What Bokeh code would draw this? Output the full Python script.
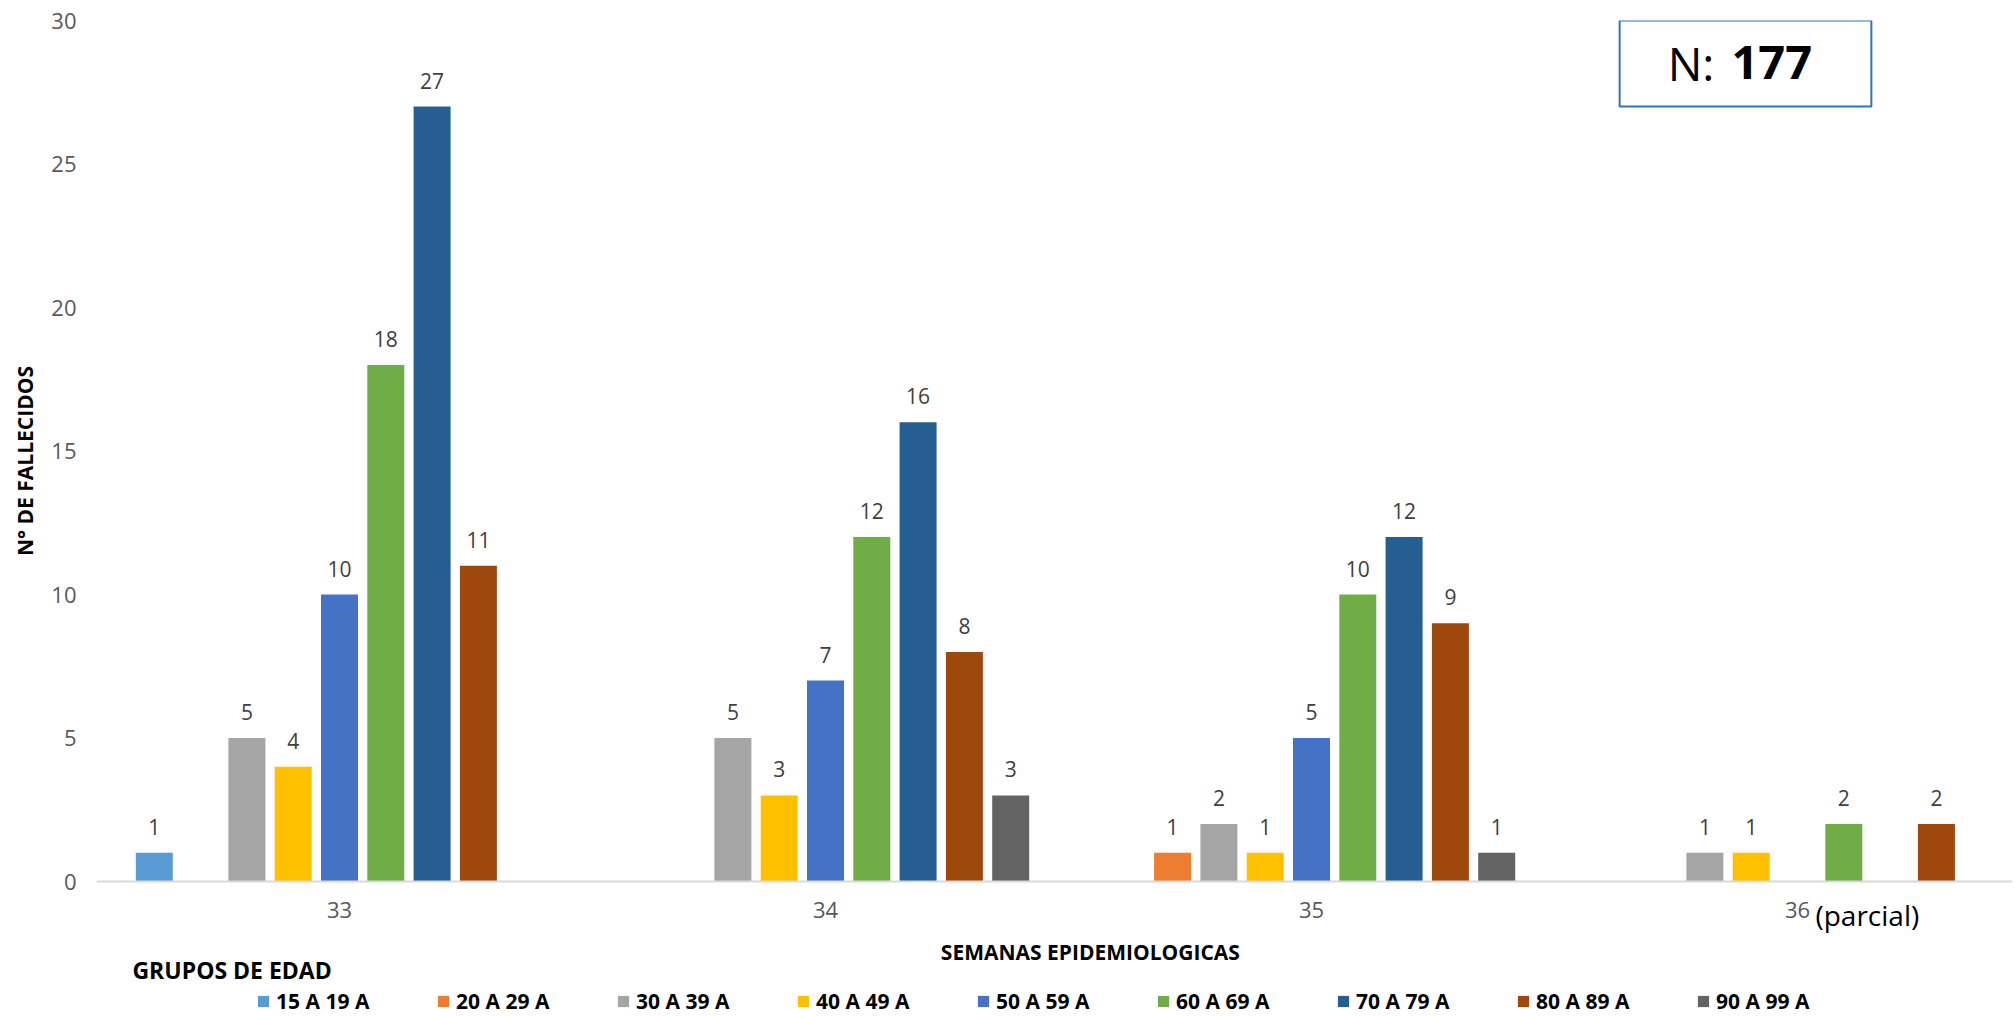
from bokeh.plotting import figure
from bokeh.layouts import row
from bokeh.models import (Range1d, FixedTicker, ColumnDataSource, Legend,
                          LegendItem, Label, BoxAnnotation)
from bokeh.core.properties import value
from bokeh.embed import file_html
from bokeh.resources import INLINE

# ---------------- data ----------------
weeks = ["33", "34", "35", "36"]
week_note = "(parcial)"
groups = ["15 A 19 A", "20 A 29 A", "30 A 39 A", "40 A 49 A", "50 A 59 A",
          "60 A 69 A", "70 A 79 A", "80 A 89 A", "90 A 99 A"]
g15_19 = [1, 0, 0, 0]
g20_29 = [0, 0, 1, 0]
g30_39 = [5, 5, 2, 1]
g40_49 = [4, 3, 1, 1]
g50_59 = [10, 7, 5, 0]
g60_69 = [18, 12, 10, 2]
g70_79 = [27, 16, 12, 0]
g80_89 = [11, 8, 9, 2]
g90_99 = [0, 3, 1, 0]
series = [g15_19, g20_29, g30_39, g40_49, g50_59, g60_69, g70_79, g80_89, g90_99]
total = 177
y_ticks = [0, 5, 10, 15, 20, 25, 30]

colors = ["#5B9BD5", "#ED7D31", "#A5A5A5", "#FFC000", "#4472C4",
          "#70AD47", "#255E91", "#9E480E", "#636363"]

FONT = "Open Sans"
TOTAL_W, H = 2012, 1015
LEFT, TOP = 96, 20
PLOT_H = 861                            # pixel height of 0..30
AXIS_EXTRA = 20                         # left axis frame reaches a bit below 0
PPX = 486.0                             # pixels per week
PPU = PLOT_H / 30.0                     # pixels per y unit
W = TOTAL_W - LEFT
X_END = W / PPX
Y_START = 30 - (H - TOP) / PPU          # frame extends below zero for labels

# ---------- left figure: only the y axis ----------
pa = figure(width=LEFT, height=TOP + PLOT_H + AXIS_EXTRA, output_backend="svg",
            toolbar_location=None, x_axis_location=None,
            x_range=Range1d(0, 1), y_range=Range1d(-AXIS_EXTRA / PPU, 30),
            min_border_left=LEFT - 1, min_border_right=0, min_border_top=TOP,
            min_border_bottom=0)
pa.outline_line_color = None
pa.xgrid.grid_line_color = None
pa.ygrid.grid_line_color = None
ya = pa.yaxis[0]
ya.ticker = FixedTicker(ticks=y_ticks)
ya.axis_line_color = None
ya.major_tick_line_color = None
ya.minor_tick_line_color = None
ya.major_label_text_font = FONT
ya.major_label_text_font_size = "22px"
ya.major_label_text_color = "#595959"
ya.major_label_standoff = 13
ya.axis_label = "N° DE FALLECIDOS"
ya.axis_label_text_font = FONT
ya.axis_label_text_font_size = "21px"
ya.axis_label_text_font_style = "bold"
ya.axis_label_text_color = "black"
ya.axis_label_standoff = 9

# ---------- main figure ----------
p = figure(width=W, height=H, output_backend="svg", toolbar_location=None,
           y_axis_location=None,
           x_range=Range1d(0, X_END), y_range=Range1d(Y_START, 30),
           min_border_left=0, min_border_right=0, min_border_top=TOP,
           min_border_bottom=0)
p.outline_line_color = None
p.background_fill_color = "white"
p.border_fill_color = "white"
p.xgrid.grid_line_color = None
p.ygrid.grid_line_color = None

slot = 46.3 / PPX
bar_w = 37.0 / PPX

items = []
for j, (name, vals, col) in enumerate(zip(groups, series, colors)):
    xs, ys, labs = [], [], []
    for i, v in enumerate(vals):
        if v > 0:
            xs.append(i + 0.5 + (j - 4) * slot)
            ys.append(v)
            labs.append(str(v))
    src = ColumnDataSource(dict(x=xs, top=ys, lab=labs))
    r = p.vbar(x="x", top="top", bottom=0, width=bar_w, source=src,
               fill_color=col, line_color=None)
    p.text(x="x", y="top", text="lab", source=src, text_font=value(FONT),
           text_font_size="21px", text_color="#404040", text_align="center",
           text_baseline="middle", y_offset=-26)
    items.append(LegendItem(label=name, renderers=[r]))

# x axis, drawn at y = 0
xa = p.xaxis[0]
xa.fixed_location = 0
xa.ticker = FixedTicker(ticks=[i + 0.5 for i in range(len(weeks))])
xa.major_label_overrides = {i + 0.5: w for i, w in enumerate(weeks)}
xa.axis_line_color = "#D9D9D9"
xa.axis_line_width = 2
xa.major_tick_line_color = None
xa.minor_tick_line_color = None
xa.major_label_text_font = FONT
xa.major_label_text_font_size = "22px"
xa.major_label_text_color = "#595959"
xa.major_label_standoff = 14

# annotations
p.add_layout(Label(x=3.537, y=-1.17, text=week_note, text_font=FONT,
                   text_font_size="28px", text_color="black",
                   text_align="left", text_baseline="middle"))
p.add_layout(Label(x=2.045, y=-2.47, text="SEMANAS EPIDEMIOLOGICAS",
                   text_font=FONT, text_font_size="21px",
                   text_font_style="bold", text_color="black",
                   text_align="center", text_baseline="middle"))
p.add_layout(Label(x=0.074, y=-3.10, text="GRUPOS DE EDAD",
                   text_font=FONT, text_font_size="23px",
                   text_font_style="bold", text_color="black",
                   text_align="left", text_baseline="middle"))

p.add_layout(BoxAnnotation(left=3.134, right=3.652, top=30, bottom=27.0,
                           fill_alpha=0, line_alpha=1, line_color="#2E75B6",
                           line_width=2))
p.add_layout(Label(x=3.329, y=28.52, text="N:", text_font=FONT,
                   text_font_size="46px", text_color="black",
                   text_align="right", text_baseline="middle"))
p.add_layout(Label(x=3.364, y=28.52, text=str(total), text_font=FONT,
                   text_font_size="47px", text_font_style="bold",
                   text_color="black", text_align="left",
                   text_baseline="middle"))

legend = Legend(items=items, orientation="horizontal", location=(160, 0),
                glyph_width=14, glyph_height=14, label_standoff=6,
                label_width=146, spacing=14, padding=0, margin=0,
                border_line_color=None, background_fill_alpha=0,
                label_text_font=FONT, label_text_font_size="21px",
                label_text_font_style="bold", label_text_color="black")
p.add_layout(legend)

layout = row(pa, p)
open("out.html", "w").write(file_html(layout, INLINE))
